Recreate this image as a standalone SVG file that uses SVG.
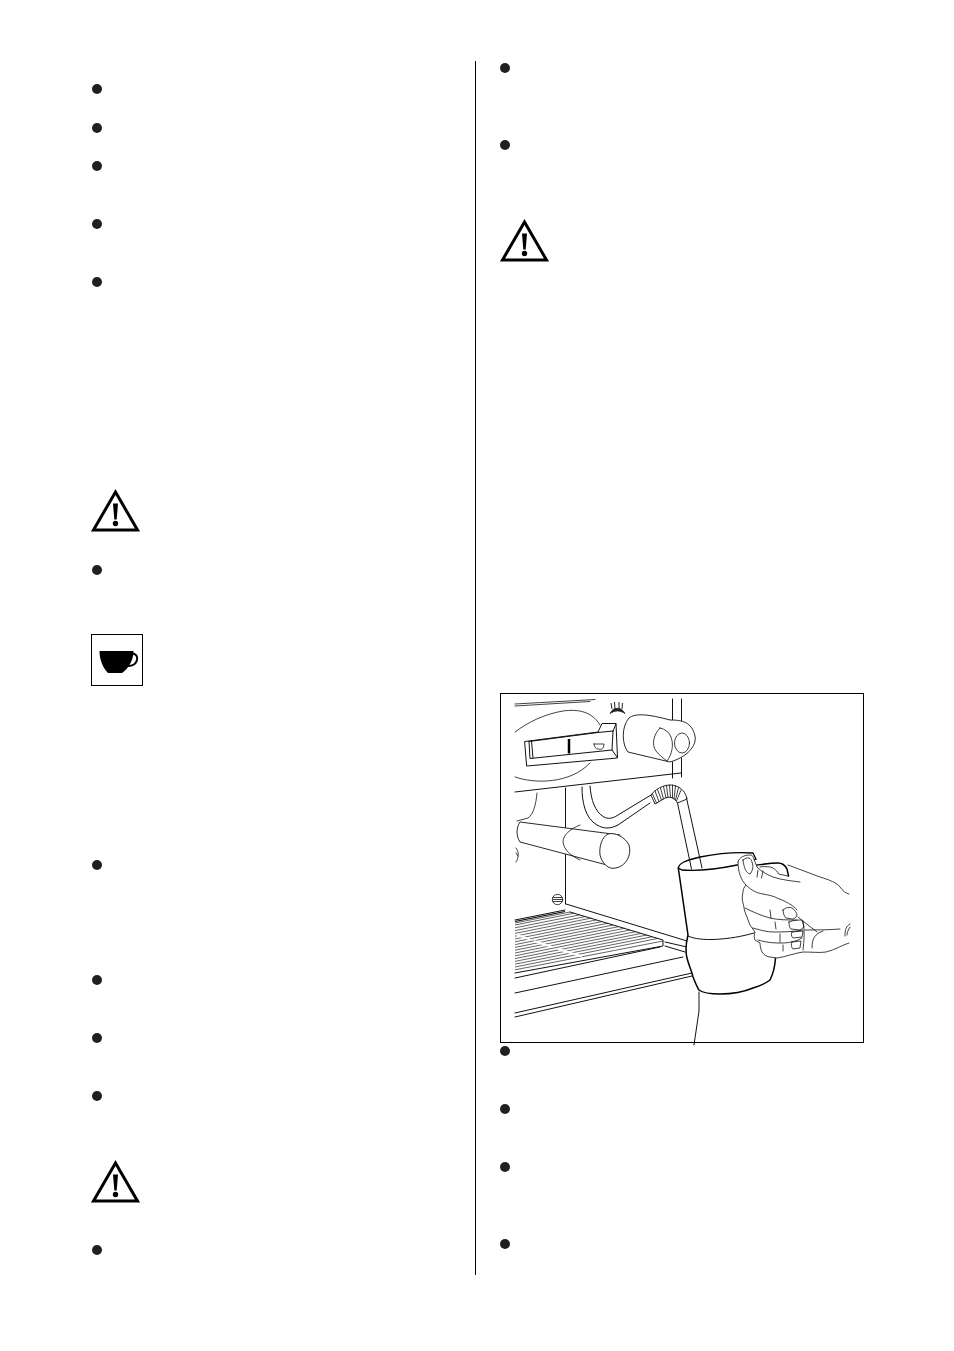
<svg xmlns="http://www.w3.org/2000/svg" width="954" height="1351" viewBox="0 0 954 1351">
<style>
.b{fill:#231f20}
.l{fill:none;stroke:#111;stroke-width:1;stroke-linecap:round;stroke-linejoin:round}
.t{fill:none;stroke:#111;stroke-width:.8;stroke-linecap:round;stroke-linejoin:round}
.h{fill:none;stroke:#000;stroke-width:1.500;stroke-linecap:round;stroke-linejoin:round}
.f{fill:#fff;stroke:#111;stroke-width:.9;stroke-linejoin:round}
.g{fill:none;stroke:#222;stroke-width:.7}
</style>
<defs>
<g id="warn">
<path d="M24.500 3 L46.500 41 H2.500 Z" fill="none" stroke="#000" stroke-width="3" stroke-linejoin="miter"/>
<path d="M22 14.500 h5 l-1.300 16 h-2.400 Z" fill="#000"/>
<circle cx="24.500" cy="34.500" r="2.700" fill="#000"/>
</g>
</defs>
<rect width="954" height="1351" fill="#fff"/>
<g id="divider"><path d="M475.500 61 V1275" stroke="#000" stroke-width="1" fill="none"/></g>
<g id="bullets-left" class="b">
<circle cx="97" cy="89" r="5"/><circle cx="97" cy="128" r="5"/><circle cx="97" cy="166" r="5"/><circle cx="97" cy="224" r="5"/><circle cx="97" cy="282" r="5"/><circle cx="97" cy="570" r="5"/><circle cx="97" cy="865" r="5"/><circle cx="97" cy="980" r="5"/><circle cx="97" cy="1038" r="5"/><circle cx="97" cy="1096" r="5"/><circle cx="97" cy="1250" r="5"/>
</g>
<g id="bullets-right" class="b">
<circle cx="505" cy="68" r="5"/><circle cx="505" cy="145" r="5"/><circle cx="505" cy="1051" r="5"/><circle cx="505" cy="1109" r="5"/><circle cx="505" cy="1167" r="5"/><circle cx="505" cy="1244" r="5"/>
</g>
<g id="warning-1"><use href="#warn" x="91" y="489"/></g>
<g id="warning-2"><use href="#warn" x="91" y="1160"/></g>
<g id="warning-3"><use href="#warn" x="500" y="219"/></g>
<g id="cup-icon">
<rect x="91.500" y="634.500" width="51" height="51" fill="#fff" stroke="#000" stroke-width="1"/>
<path d="M99.500 651 H133.500 C133.500 660 129 668 122 673 H108 C103 668 99.500 660 99.500 651 Z" fill="#000"/>
<path d="M131 653.500 C136 653 138 657 137 660 C136 664 132 666 128 666" fill="none" stroke="#000" stroke-width="2"/>
</g>
<g id="figure">
<rect x="500.500" y="693.500" width="363" height="349" fill="#fff" stroke="#000" stroke-width="1"/>
<g id="machine">
<path class="t" d="M515 704 L595 699.500 M515 706 L590 701.500"/>
<path class="l" d="M672.500 699 V722 M681.500 699 V724 M672.500 762 V778 M681.500 758 V777"/>
<path class="t" d="M515 732 C528 722 545 714 563 711 C577 709 592 711 600 725"/>
<path class="t" d="M515 777 C535 784 570 784 590 763"/>
<path class="l" d="M525 741.500 L598 732 L602 723.500 L616 723.500 L617.500 758 L527 766 Z"/>
<path class="l" d="M529 741.500 L530 758.500 L612 750 L613 731 M531.500 741 L533 758 M529 741.500 L598 732.500 L613 731 M612 750 L617 757 M613 731 L616 724"/>
<path d="M569 739 V753.500" stroke="#000" stroke-width="2.500"/>
<path class="t" d="M594 744 H604 C604 749 601 750 598 749 C596 749 594 747 594 744 Z"/>
<path d="M611 703 L612 709 M614.500 702 L615 709 M619 702 L619 709 M622.500 703 L622 709" stroke="#222" stroke-width="1"/>
<path d="M610 713.500 C613 707 621 706 625 713.500 C620 710 615 710 610 713.500 Z" fill="#222" stroke="#222" stroke-width=".8"/>
<path class="f" d="M629 718 C635 713 648 714 670 720 C682 720 692 722 695 736 C697 746 687 757 670 762 L628 752 C622 745 621 727 629 718 Z"/>
<path class="t" d="M660 728 C654 734 651 744 656 751 C659 755 663 758 667 761 C672 754 674 745 671 737 C669 732 665 729 660 728 Z"/>
<ellipse class="t" cx="682" cy="743" rx="7.500" ry="10"/>
<path class="l" d="M515 792 L681 773"/>
<path class="t" d="M537 793 C536 805 533 815 528 818 L517 821"/>
<path class="l" d="M565.500 788 V904"/>
<path class="l" d="M582 787 C582 802 585 818 597 825 C604 829 610 829 618 825 L650 803"/>
<path class="l" d="M590 786 C591 800 595 812 604 817 C608 819 612 819 618 815 L651 795"/>
<path class="f" d="M651 795 C657 787 668 783 676 786 C682 788 686 793 687 799 L677.500 803 C675 798 670 796 665 798 L655 804 Z"/>
<path class="t" d="M652.500 794 L656.500 803 M655 791 L659 801.500 M657.500 789.500 L661.500 800 M660.500 788 L663.500 799 M663.500 786.500 L666 798 M666.500 785.500 L668 797.500 M669.500 785 L670.500 797.500 M672.500 785 L672.500 798 M675.500 786 L674 799 M678.500 787.500 L675.500 800 M681 790 L676.500 801"/>
<path class="f" d="M520 822 L620 835 L607 865 L520 842 C516 836 516 828 520 822 Z"/>
<path class="t" d="M580 825 C570 829 563 835 563 842 C564 850 571 856 580 860"/>
<path class="f" d="M608 834 C615 832 625 837 629 845 C632 855 626 866 616 868 C608 870 602 863 600 855 C599 846 602 837 608 834 Z"/>
<path class="t" d="M516 848 C519 851 519 858 516 862 M516 853 L518 856"/>
<circle class="t" cx="557.500" cy="899.500" r="5.200"/>
<path class="t" d="M553 899.500 H562 M553 897.500 H562 M553 901.500 H562"/>
<path class="l" d="M566 904 L687 941"/>
<path class="l" d="M665 942 L687 947 M665 946 L685 952"/>
<path class="l" d="M515 920 L565 910 M570 912 L663 940 V946 L515 973"/>
<path class="g" d="M515 923 L570 912 M515 925 L574 913.200 M515 927.800 L579.600 914.900 M515 930.600 L585.200 916.600 M515 933.400 L590.800 918.200 M515 936.200 L596.400 919.900 M515 939 L602 921.600 M515 941.800 L607.600 923.300 M515 944.600 L613.200 925 M515 947.400 L618.800 926.600 M515 950.200 L624.400 928.300 M515 953 L630 930 M515 955.800 L635.600 931.700 M515 958.600 L641.200 933.400 M515 961.400 L646.800 935 M515 964.200 L652.400 936.700 M515 967 L658 938.400 M515 969.800 L663 941"/>
<path d="M517 935 L530 939.500 M534 941 L552 947 M558 949 L582 956.500" stroke="#fff" stroke-width="2" fill="none"/>
<path class="l" d="M515 978 L660 947 M515 993 L683 957 M515 1013 L692 973 M515 1017 L692 976"/>
<path d="M515 921.500 L565 911.500" stroke="#000" stroke-width="1.200" fill="none"/>
</g>
<g id="pitcher">
<path d="M678.300 868 L688 935 C686 943 685 950 687 958 L693 977 L699 990 L720 994 L753 988 L770 980 L775.500 958 L757 868 Z" fill="#fff"/>
<path d="M678.300 868 C679 864 683 861 700 857 C720 853 740 852 753 853 L756 859 L737 865 C718 869 695 871 682 870 Z" fill="#fff" stroke="#000" stroke-width="1.300"/>
<path class="l" d="M677.500 803 L691.500 869 M686.500 798 L702 868"/>
<path class="h" d="M678.300 868 L688 935 C686 943 685 950 687 958 C689 966 692 972 693 977 C695 982 697 987 699 990 C703 993 710 994 720 994 C735 994 746 991 753 988 C760 986 766 983 770 980 C773 974 775 966 775.500 958"/>
<path class="l" d="M688 936 C700 942 730 940 754 933"/>
<path class="l" d="M699 992 V1011 L694 1045"/>
<path class="h" d="M757 865 C765 864 772 863 778 863 C782 863 785 865 787 869 L788.500 876"/>
<path class="t" d="M760 867 C766 866 771 867 773 868 C776 870 778 872 778.500 874 L788 876"/>
</g>
<g id="hand">
<path d="M738 862 C739 857 745 855 750 855 C752 855 753 856 753.500 858 L757 867 L773 877 L800 882 L797 910 L803 931 L803 952 L777 958 L770 957 C765 956 763 954 762 952 L760 943 L755 940 L755 932 L750 925 L745 912 L743 903 L743 892 L746 885 C741 880 738 872 738 862 Z" fill="#fff"/>
<path class="t" d="M738 862 C739 857 745 855 750 855 C752 855 753 856 753.500 858 L757 867 C762 872 768 875 773 877 C782 880 792 881 800 882"/>
<path class="t" d="M738 862 C738 872 741 880 746 885 C744 887 743 890 743 892 C742 896 742 900 743 903 C744 907 744 909 745 912 L750 925 L755 932 C754 935 754 938 755 940 L760 943 C760 946 761 950 762 952 C764 955 767 957 770 957 L777 958 C785 957 795 953 803 952 C812 952 820 953 826 952 C835 950 842 945 849 943"/>
<path class="t" d="M788 865 L820 877 C830 880 837 883 840 887 C843 891 845 893 849 894"/>
<path class="t" d="M746 885 C752 891 757 893 763 894 C768 895 774 896 777 898 C785 901 793 905 797 910"/>
<path class="t" d="M745 908 C753 912 762 916 770 918 C778 920 788 920 797 920"/>
<path class="t" d="M753 928 C760 930 767 932 773 932 C782 932 792 932 803 930"/>
<path class="t" d="M758 940 C768 943 775 943 783 943 C790 943 797 941 802 938"/>
<path class="t" d="M743 860 C748 856 751 858 752 862 C754 867 752 872 750 874 C746 873 744 868 743 860 Z"/>
<path class="t" d="M758 870 L757 877 M763 871 L761.500 878"/>
<path class="t" d="M783 910 C786 907 790 907 792 908 C795 910 797 913 797 915 C796 918 794 919 792 919 L786 918 C784 916 783 913 783 910 Z"/>
<path class="t" d="M789 922 C793 920 799 920 802 920 L804 927 L800 930 L791 929 C789 927 789 924 789 922 Z"/>
<path class="t" d="M792 932 L803 931 L802 937 L793 938 C791 936 791 934 792 932 Z M792 942 L801 941 L800 948 L793 949 C791 947 791 944 792 942 Z"/>
<path class="t" d="M770 910 L771 918 M775 922 L776 929 M780 934 L780 942 M783 945 L783 951"/>
<path class="t" d="M798 917 L808 925 L817 932 M805 930 C815 930 828 930 840 929 M823 931 C815 934 812 938 812 948"/>
<path class="t" d="M803 921 C805 930 804 942 803 950"/>
<path class="t" d="M850 924 C846 926 845 930 845 936 M850 927 C848 930 847 933 847 935"/>
</g>
</g>
</svg>
